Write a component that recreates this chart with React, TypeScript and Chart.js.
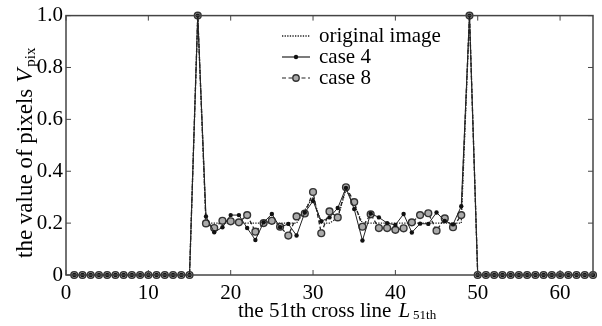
import React, { useEffect, useRef } from "react";
import { Chart, registerables } from "chart.js";

Chart.register(...registerables);

const X_INDEX = [
  1, 2, 3, 4, 5, 6, 7, 8, 9, 10, 11, 12, 13, 14, 15, 16,
  17, 18, 19, 20, 21, 22, 23, 24, 25, 26, 27, 28, 29, 30, 31, 32,
  33, 34, 35, 36, 37, 38, 39, 40, 41, 42, 43, 44, 45, 46, 47, 48,
  49, 50, 51, 52, 53, 54, 55, 56, 57, 58, 59, 60, 61, 62, 63, 64,
];

const ORIGINAL = [
  0, 0, 0, 0, 0, 0, 0, 0, 0, 0, 0, 0, 0, 0, 0, 1,
  0.2, 0.2, 0.2, 0.2, 0.2, 0.2, 0.2, 0.2, 0.2, 0.2, 0.2, 0.2, 0.25, 0.3, 0.2, 0.2,
  0.22, 0.33, 0.27, 0.2, 0.2, 0.2, 0.2, 0.2, 0.2, 0.2, 0.2, 0.2, 0.2, 0.2, 0.2, 0.2,
  1, 0, 0, 0, 0, 0, 0, 0, 0, 0, 0, 0, 0, 0, 0, 0,
];

const CASE4 = [
  0, 0, 0, 0, 0, 0, 0, 0, 0, 0, 0, 0, 0, 0, 0, 1,
  0.226, 0.165, 0.184, 0.231, 0.231, 0.181, 0.135, 0.203, 0.235, 0.184, 0.197, 0.152, 0.241, 0.285, 0.207, 0.222,
  0.258, 0.336, 0.254, 0.133, 0.237, 0.222, 0.2, 0.193, 0.235, 0.164, 0.198, 0.197, 0.241, 0.208, 0.195, 0.265,
  1, 0, 0, 0, 0, 0, 0, 0, 0, 0, 0, 0, 0, 0, 0, 0,
];

const CASE8 = [
  0, 0, 0, 0, 0, 0, 0, 0, 0, 0, 0, 0, 0, 0, 0, 1,
  0.199, 0.181, 0.209, 0.207, 0.203, 0.231, 0.167, 0.2, 0.209, 0.186, 0.152, 0.226, 0.237, 0.32, 0.161, 0.245,
  0.222, 0.338, 0.281, 0.186, 0.234, 0.181, 0.181, 0.174, 0.18, 0.203, 0.231, 0.238, 0.171, 0.218, 0.184, 0.231,
  1, 0, 0, 0, 0, 0, 0, 0, 0, 0, 0, 0, 0, 0, 0, 0,
];

const SERIES_NAMES = ["original image", "case 4", "case 8"];
const X_TICKS = [0, 10, 20, 30, 40, 50, 60];
const Y_TICKS = [0, 0.2, 0.4, 0.6, 0.8, 1.0];

const FONT = "Liberation Serif";
const LINE = "#222";

export default function App() {
  const ref = useRef<HTMLCanvasElement | null>(null);

  useEffect(() => {
    document.body.style.margin = "0";
    const canvas = ref.current;
    if (!canvas) return;
    let chart: Chart | null = null;
    let cancelled = false;

    const toPts = (arr: number[]) => X_INDEX.map((x, i) => ({ x, y: arr[i] }));

    const decor = {
      id: "decor",
      afterDraw(c: any) {
        const ctx = c.ctx as CanvasRenderingContext2D;
        const a = c.chartArea;
        const xs = c.scales.x;
        const ys = c.scales.y;
        ctx.save();
        ctx.strokeStyle = "#444";
        ctx.lineWidth = 1.5;
        ctx.setLineDash([]);
        ctx.strokeRect(a.left, a.top, a.right - a.left, a.bottom - a.top);
        const tl = 5;
        ctx.lineWidth = 1;
        ctx.beginPath();
        X_TICKS.forEach((v) => {
          const px = xs.getPixelForValue(v);
          ctx.moveTo(px, a.bottom);
          ctx.lineTo(px, a.bottom - tl);
          ctx.moveTo(px, a.top);
          ctx.lineTo(px, a.top + tl);
        });
        Y_TICKS.forEach((v) => {
          const py = ys.getPixelForValue(v);
          ctx.moveTo(a.left, py);
          ctx.lineTo(a.left + tl, py);
          ctx.moveTo(a.right, py);
          ctx.lineTo(a.right - tl, py);
        });
        ctx.stroke();

        const lx0 = 282;
        const lx1 = 310;
        const tx = 319;
        const rows = [36, 57, 78];
        ctx.font = `21px "${FONT}"`;
        ctx.textBaseline = "middle";
        ctx.textAlign = "left";
        rows.forEach((ry, i) => {
          ctx.strokeStyle = LINE;
          ctx.lineWidth = i === 0 ? 1.3 : 1.2;
          ctx.setLineDash(i === 0 ? [1.3, 1.3] : i === 2 ? [4, 2.5] : []);
          ctx.beginPath();
          ctx.moveTo(lx0, ry);
          ctx.lineTo(lx1, ry);
          ctx.stroke();
          ctx.setLineDash([]);
          const mx = (lx0 + lx1) / 2;
          if (i === 1) {
            ctx.fillStyle = "#111";
            ctx.beginPath();
            ctx.arc(mx, ry, 2.2, 0, Math.PI * 2);
            ctx.fill();
          } else if (i === 2) {
            ctx.fillStyle = "#aaa";
            ctx.strokeStyle = "#333";
            ctx.lineWidth = 1.4;
            ctx.beginPath();
            ctx.arc(mx, ry, 3.2, 0, Math.PI * 2);
            ctx.fill();
            ctx.stroke();
          }
          ctx.fillStyle = "#000";
          ctx.fillText(SERIES_NAMES[i], tx, ry);
        });

        ctx.textBaseline = "alphabetic";
        ctx.fillStyle = "#000";

        // x title
        const big = `21px "${FONT}"`;
        const bigI = `italic 21px "${FONT}"`;
        const small = `13px "${FONT}"`;
        const xt1 = "the 51th cross line";
        const xt2 = "L";
        const xt3 = "51th";
        ctx.font = big;
        const w1 = ctx.measureText(xt1).width;
        ctx.font = bigI;
        const w2 = ctx.measureText(xt2).width;
        let cx = 238;
        const by = 317;
        ctx.font = big;
        ctx.fillText(xt1, cx, by);
        cx += w1 + 7;
        ctx.font = bigI;
        ctx.fillText(xt2, cx, by);
        cx += w2 + 3;
        ctx.font = small;
        ctx.fillText(xt3, cx, by + 2);

        // y title
        const ybig = `23px "${FONT}"`;
        const ybigI = `italic 23px "${FONT}"`;
        const ysmall = `15px "${FONT}"`;
        const yt1 = "the value of pixels";
        const yt2 = "V";
        const yt3 = "pix";
        ctx.font = ybig;
        const v1 = ctx.measureText(yt1).width;
        ctx.font = ybigI;
        const v2 = ctx.measureText(yt2).width;
        ctx.translate(32, 258);
        ctx.rotate(-Math.PI / 2);
        let cy = 0;
        ctx.font = ybig;
        ctx.fillText(yt1, cy, 0);
        cy += v1 + 6;
        ctx.font = ybigI;
        ctx.fillText(yt2, cy, 0);
        cy += v2 + 2;
        ctx.font = ysmall;
        ctx.fillText(yt3, cy, 3);
        ctx.restore();
      },
    };

    const build = () => {
      if (cancelled) return;
      chart = new Chart(canvas, {
        type: "line",
        data: {
          datasets: [
            {
              label: SERIES_NAMES[0],
              data: toPts(ORIGINAL),
              borderColor: LINE,
              borderWidth: 1.3,
              borderDash: [1.3, 1.3],
              pointRadius: 0,
              tension: 0,
              clip: false as any,
              order: 3,
            },
            {
              label: SERIES_NAMES[1],
              data: toPts(CASE4),
              borderColor: LINE,
              borderWidth: 1,
              pointRadius: 2.2,
              pointBackgroundColor: "#111",
              pointBorderWidth: 0,
              tension: 0,
              clip: false as any,
              order: 1,
            },
            {
              label: SERIES_NAMES[2],
              data: toPts(CASE8),
              borderColor: LINE,
              borderWidth: 1.3,
              borderDash: [4, 2.5],
              pointRadius: 3.4,
              pointBackgroundColor: "#aaa",
              pointBorderColor: "#333",
              pointBorderWidth: 1.4,
              tension: 0,
              clip: false as any,
              order: 2,
            },
          ],
        },
        options: {
          animation: false,
          responsive: false,
          events: [],
          layout: { padding: { left: 0, top: 13, right: 9, bottom: 0 } },
          plugins: { legend: { display: false }, tooltip: { enabled: false } },
          scales: {
            x: {
              type: "linear",
              min: 0,
              max: 64,
              afterBuildTicks: (s: any) => {
                s.ticks = X_TICKS.map((v) => ({ value: v }));
              },
              afterFit: (s: any) => {
                s.height = 51;
              },
              grid: { display: false, drawTicks: false },
              border: { display: false },
              ticks: {
                color: "#000",
                font: { family: FONT, size: 21 },
                padding: 6,
                maxRotation: 0,
                autoSkip: false,
              },
            },
            y: {
              type: "linear",
              min: 0,
              max: 1,
              afterBuildTicks: (s: any) => {
                s.ticks = Y_TICKS.map((v) => ({ value: v }));
              },
              afterFit: (s: any) => {
                s.width = 66;
              },
              grid: { display: false, drawTicks: false },
              border: { display: false },
              ticks: {
                color: "#000",
                font: { family: FONT, size: 21 },
                padding: 3,
                callback: (v: any) => (Number(v) === 0 ? "0" : Number(v).toFixed(1)),
              },
            },
          },
        },
        plugins: [decor],
      });
    };

    const fonts = (document as any).fonts;
    if (fonts && fonts.load) {
      Promise.all([
        fonts.load(`21px "${FONT}"`),
        fonts.load(`italic 21px "${FONT}"`),
      ])
        .catch(() => null)
        .then(build);
    } else {
      build();
    }

    return () => {
      cancelled = true;
      if (chart) chart.destroy();
    };
  }, []);

  return (
    <div style={{ width: 602, height: 326 }}>
      <canvas ref={ref} width={602} height={326} style={{ display: "block", width: 602, height: 326 }} />
    </div>
  );
}
